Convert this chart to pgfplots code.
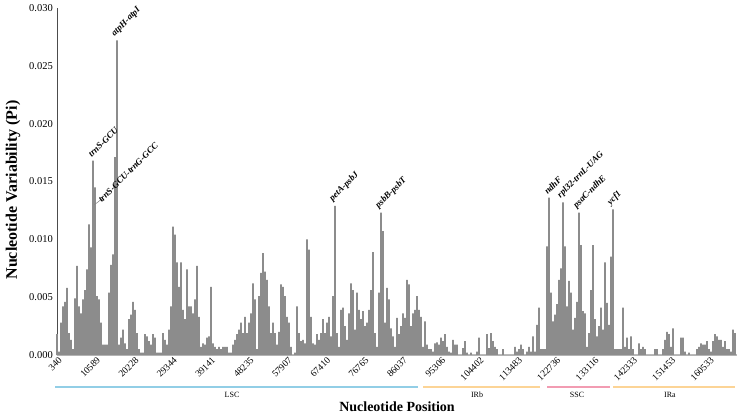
\documentclass[border=0pt]{standalone}
\usepackage{pgfplots}
\pgfplotsset{compat=1.18}
\usepackage{fontspec}
\setmainfont{Liberation Serif}
\definecolor{bargray}{RGB}{140,140,140}
\definecolor{lscblue}{RGB}{146,206,230}
\definecolor{irorange}{RGB}{252,212,150}
\definecolor{sscpink}{RGB}{242,156,178}
\begin{document}
\begin{tikzpicture}[x=1pt,y=1pt]
\path[use as bounding box] (0,0) rectangle (740,414);
\begin{axis}[
  at={(57,51)}, anchor=origin,
  scale only axis, width=680pt, height=347pt,
  xmin=0, xmax=680, ymin=0, ymax=30,
  axis x line*=bottom, axis y line*=left,
  axis line style={-},
  x axis line style={draw=gray!55, line width=1.2pt},
  y axis line style={draw=black!70, line width=0.6pt},
  tick style={draw=none},
  ytick={0,5,10,15,20,25,30},
  yticklabels={0.000,0.005,0.010,0.015,0.020,0.025,0.030},
  yticklabel style={font=\fontsize{10.5}{11}\selectfont, inner sep=1pt, xshift=-3pt},
  xtick={1,39.35,77.7,116.05,154.4,192.75,231.1,269.45,307.8,346.15,384.5,422.85,461.2,499.55,537.9,576.25,614.6,652.95},
  xticklabels={340,10589,20228,29344,39141,48235,57907,67410,76765,86037,95306,104402,113483,122736,133116,142333,151453,160533},
  xticklabel style={font=\fontsize{9.5}{10}\selectfont, rotate=45, anchor=north east, inner sep=1pt},
  clip=false,
]
\addplot[ybar, bar width=1.6, bar shift=0pt, fill=bargray, draw=none] table[row sep=\\] {
x y\\
0 1.8\\ 2 0.3\\ 4 2.8\\ 6 4.2\\ 8 4.6\\ 10 5.8\\ 12 1.9\\ 14 1.3\\ 16 0.5\\ 18 4.9\\
20 7.7\\ 22 4.2\\ 24 3.6\\ 26 4.8\\ 28 5.6\\ 30 7.4\\ 32 11.3\\ 34 9.3\\ 36 16.8\\ 38 14.5\\
40 5.1\\ 42 4.8\\ 44 2.8\\ 46 0.9\\ 48 0.9\\ 50 0.9\\ 52 5.4\\ 54 7.8\\ 56 8.7\\ 58 17.1\\
60 27.2\\ 62 0.9\\ 64 1.5\\ 66 2.2\\ 68 1.0\\ 70 0.5\\ 72 3.1\\ 74 3.5\\ 76 4.6\\ 78 3.9\\
80 1.9\\ 82 0.5\\ 84 0.2\\ 86 0.2\\ 88 1.8\\ 90 1.6\\ 92 1.2\\ 94 0.9\\ 96 1.8\\ 98 1.5\\
100 0.2\\ 102 0.2\\ 104 0.2\\ 106 1.9\\ 108 1.3\\ 110 0.9\\ 112 2.2\\ 114 4.2\\ 116 11.1\\ 118 10.4\\
120 8.0\\ 122 5.9\\ 124 8.0\\ 126 3.9\\ 128 3.1\\ 130 7.4\\ 132 4.2\\ 134 4.2\\ 136 3.6\\ 138 4.8\\
140 7.7\\ 142 3.3\\ 144 0.7\\ 146 1.0\\ 148 0.9\\ 150 1.5\\ 152 1.6\\ 154 5.9\\ 156 1.0\\ 158 0.7\\
160 0.5\\ 162 0.7\\ 164 0.5\\ 166 0.7\\ 168 0.7\\ 170 0.7\\ 172 0.2\\ 174 0.2\\ 176 0.9\\ 178 1.3\\
180 1.8\\ 182 2.2\\ 184 2.8\\ 186 1.9\\ 188 3.3\\ 190 1.9\\ 192 2.8\\ 194 3.6\\ 196 6.2\\ 198 4.8\\
200 0.5\\ 202 5.1\\ 204 7.1\\ 206 8.8\\ 208 7.2\\ 210 6.5\\ 212 4.2\\ 214 1.9\\ 216 2.8\\ 218 1.9\\
220 0.9\\ 222 2.0\\ 224 6.1\\ 226 5.9\\ 228 5.1\\ 230 3.3\\ 232 2.8\\ 234 0.7\\ 236 0\\ 238 0.2\\
240 4.2\\ 242 1.9\\ 244 1.2\\ 246 1.3\\ 248 1.0\\ 250 10.0\\ 252 9.1\\ 254 3.3\\ 256 1.0\\ 258 0.9\\
260 1.8\\ 262 1.3\\ 264 1.9\\ 266 3.1\\ 268 1.9\\ 270 2.8\\ 272 3.3\\ 274 1.6\\ 276 5.1\\ 278 12.9\\
280 1.9\\ 282 0.7\\ 284 3.9\\ 286 4.1\\ 288 2.5\\ 290 1.3\\ 292 3.6\\ 294 6.2\\ 296 5.6\\ 298 2.2\\
300 5.4\\ 302 3.9\\ 304 3.1\\ 306 3.8\\ 308 2.5\\ 310 2.8\\ 312 3.9\\ 314 5.6\\ 316 8.9\\ 318 1.9\\
320 0.7\\ 322 5.4\\ 324 12.3\\ 326 10.7\\ 328 2.8\\ 330 5.8\\ 332 4.8\\ 334 2.3\\ 336 1.6\\ 338 0.7\\
340 3.2\\ 342 1.8\\ 344 2.5\\ 346 3.6\\ 348 3.2\\ 350 6.5\\ 352 6.1\\ 354 2.5\\ 356 3.6\\ 358 3.9\\
360 5.1\\ 362 3.9\\ 364 3.3\\ 366 0.7\\ 368 2.9\\ 370 0.9\\ 372 0.5\\ 374 0.5\\ 376 0.3\\ 378 1.0\\
380 1.1\\ 382 0.9\\ 384 1.5\\ 386 1.2\\ 388 1.8\\ 390 0.7\\ 392 0.3\\ 394 0.2\\ 396 1.3\\ 398 0.9\\
400 0.9\\ 402 0\\ 404 0\\ 406 0.6\\ 408 1.2\\ 410 0.2\\ 412 0\\ 414 0.2\\ 416 0\\ 418 0\\
420 0.3\\ 422 1.5\\ 424 0\\ 426 0\\ 428 0\\ 430 1.8\\ 432 0.6\\ 434 1.9\\ 436 1.2\\ 438 0.7\\
440 0.5\\ 442 0\\ 444 0\\ 446 0.5\\ 448 0\\ 450 0\\ 452 0\\ 454 0\\ 456 0\\ 458 0.7\\
460 0.3\\ 462 0.5\\ 464 0.9\\ 466 0.5\\ 468 0\\ 470 0.3\\ 472 0.7\\ 474 0.3\\ 476 1.6\\ 478 0.3\\
480 2.6\\ 482 4.1\\ 484 0.5\\ 486 0.5\\ 488 0.5\\ 490 9.4\\ 492 13.6\\ 494 5.4\\ 496 2.9\\ 498 3.5\\
500 4.4\\ 502 6.5\\ 504 7.5\\ 506 13.2\\ 508 9.4\\ 510 4.2\\ 512 6.4\\ 514 5.4\\ 516 2.2\\ 518 3.2\\
520 4.6\\ 522 12.3\\ 524 9.5\\ 526 3.8\\ 528 3.6\\ 530 0.7\\ 532 1.9\\ 534 5.6\\ 536 9.5\\ 538 3.1\\
540 1.6\\ 542 2.5\\ 544 4.1\\ 546 2.2\\ 548 8.0\\ 550 4.5\\ 552 2.6\\ 554 8.5\\ 556 12.6\\ 558 0.5\\
560 0.5\\ 562 0.5\\ 564 0.5\\ 566 4.1\\ 568 0.7\\ 570 1.5\\ 572 0.5\\ 574 1.6\\ 576 0.5\\ 578 0\\
580 0\\ 582 1.0\\ 584 0.5\\ 586 0.7\\ 588 0.5\\ 590 0\\ 592 0\\ 594 0\\ 596 0\\ 598 0.5\\
600 0.5\\ 602 0\\ 604 0\\ 606 0.5\\ 608 1.3\\ 610 2.0\\ 612 1.8\\ 614 0.7\\ 616 2.3\\ 618 0\\
620 0\\ 622 0\\ 624 1.5\\ 626 1.5\\ 628 0.3\\ 630 0\\ 632 0.2\\ 634 0\\ 636 0\\ 638 0\\
640 0.5\\ 642 0.7\\ 644 1.0\\ 646 0.9\\ 648 0.9\\ 650 1.2\\ 652 0.5\\ 654 0.3\\ 656 1.2\\ 658 1.8\\
660 1.6\\ 662 1.3\\ 664 1.3\\ 666 0.7\\ 668 1.2\\ 670 0.5\\ 672 0.5\\ 674 0.3\\ 676 2.2\\ 678 1.9\\
};
\tikzset{ann/.style={anchor=south west, rotate=45, inner sep=1pt, font=\bfseries\itshape\fontsize{9}{10}\selectfont}}
\node[ann] at (axis cs:35,16.9) {trnS-GCU};
\node[ann] at (axis cs:59,27.3) {atpH-atpI};
\draw[gray, line width=0.5pt] (axis cs:37.5,13.0) -- (axis cs:45,13.5);
\node[ann] at (axis cs:45,13.0) {trnS-GCU-trnG-GCC};
\node[ann] at (axis cs:277,13.0) {petA-psbJ};
\node[ann] at (axis cs:323,12.4) {psbB-psbT};
\node[ann] at (axis cs:491,13.7) {ndhF};
\node[ann] at (axis cs:505,13.3) {rpl32-trnL-UAG};
\node[ann] at (axis cs:521,12.4) {psaC-ndhE};
\node[ann] at (axis cs:555,12.7) {ycf1};
\end{axis}
\draw[lscblue, line width=2pt] (55,27) -- (418,27);
\draw[irorange, line width=2pt] (423,27) -- (540,27);
\draw[sscpink, line width=2pt] (547,27) -- (610,27);
\draw[irorange, line width=2pt] (613,27) -- (735,27);
\tikzset{reg/.style={font=\fontsize{8}{9}\selectfont, inner sep=0pt}}
\node[reg] at (232,19) {LSC};
\node[reg] at (477,19) {IRb};
\node[reg] at (577,19) {SSC};
\node[reg] at (670,19) {IRa};
\node[font=\bfseries\fontsize{14}{15}\selectfont, inner sep=0pt] at (397,7) {Nucleotide Position};
\node[font=\bfseries\fontsize{16}{17}\selectfont, inner sep=0pt, rotate=90] at (13,224) {Nucleotide Variability (Pi)};
\end{tikzpicture}
\end{document}
